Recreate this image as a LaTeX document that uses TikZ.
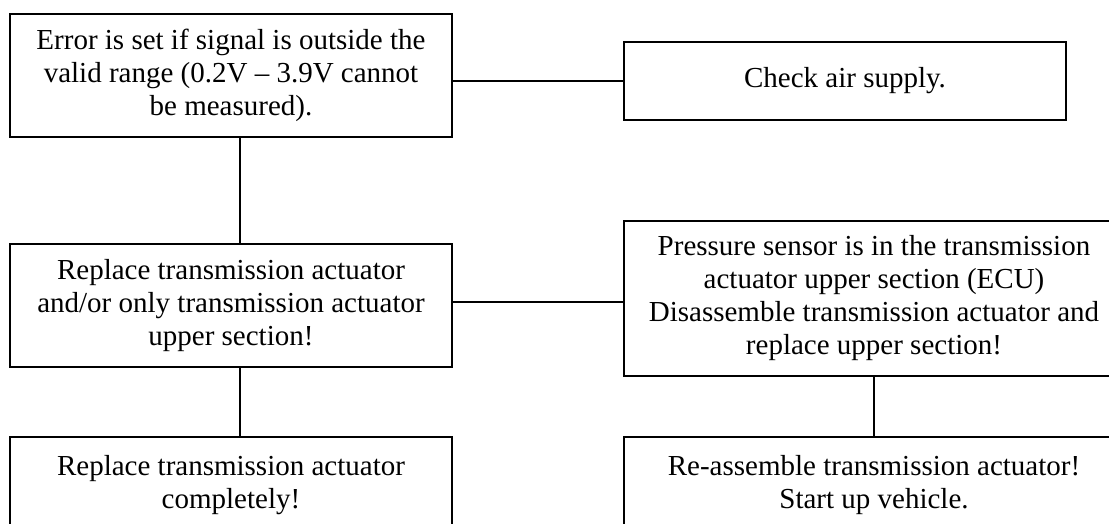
\documentclass[tikz,border=0pt]{standalone}
\usepackage{fontspec}
\setmainfont{Liberation Serif}
\begin{document}
\begin{tikzpicture}[x=1pt,y=-1pt,
  boxnode/.style={draw,line width=1.6pt,rectangle,inner sep=0pt,align=center,
    font=\fontsize{29}{33}\selectfont},
  link/.style={line width=1.6pt}]
\useasboundingbox (0,0) rectangle (1109,524);
\node[boxnode,minimum width=442,minimum height=123] (b1) at (231,75.5)
  {Error is set if signal is outside the\\valid range (0.2V -- 3.9V cannot\\be measured).};
\node[boxnode,minimum width=442,minimum height=78] (b2) at (845,81)
  {Check air supply.};
\node[boxnode,minimum width=442,minimum height=123] (b3) at (231,305.5)
  {Replace transmission actuator\\and/or only transmission actuator\\upper section!};
\node[boxnode,minimum width=500,minimum height=155] (b4) at (874,298.5)
  {Pressure sensor is in the transmission\\actuator upper section (ECU)\\Disassemble transmission actuator and\\replace upper section!};
\node[boxnode,minimum width=442,minimum height=96] (b5) at (231,485)
  {Replace transmission actuator\\completely!};
\node[boxnode,minimum width=500,minimum height=96] (b6) at (874,485)
  {Re-assemble transmission actuator!\\Start up vehicle.};
\draw[link] (b1.east |- b2.west) -- (b2.west);
\draw[link] (b1.south -| 240,0) -- (b3.north -| 240,0);
\draw[link] (b3.east |- 0,302) -- (b4.west |- 0,302);
\draw[link] (b3.south -| 240,0) -- (b5.north -| 240,0);
\draw[link] (b4.south) -- (b6.north);
\end{tikzpicture}
\end{document}
